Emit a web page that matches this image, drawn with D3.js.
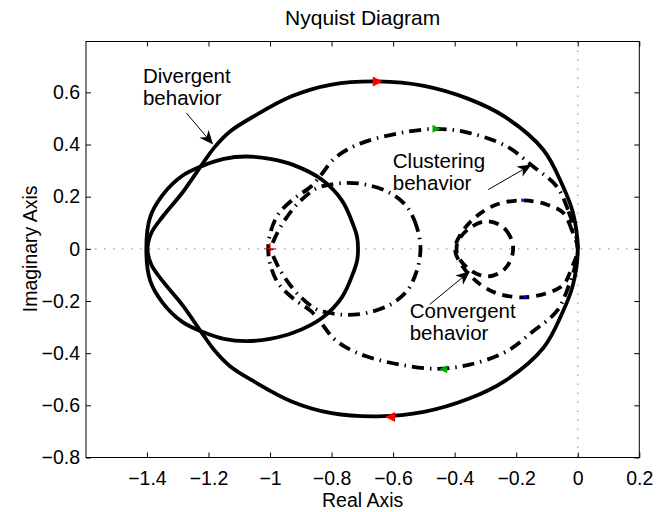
<!DOCTYPE html>
<html>
<head>
<meta charset="utf-8">
<script src="https://cdn.jsdelivr.net/npm/d3@7"></script>
<style>
  body { margin: 0; background: #fff; }
  text { font-family: "Liberation Sans", Arial, Helvetica, sans-serif; fill: #000; }
</style>
</head>
<body>
<svg id="chart" width="672" height="512"></svg>
<script>
// tick values and their labels
var xTicks = [-1.4, -1.2, -1, -0.8, -0.6, -0.4, -0.2, 0, 0.2]
var xTickLabels = ["\u22121.4", "\u22121.2", "\u22121", "\u22120.8", "\u22120.6", "\u22120.4", "\u22120.2", "0", "0.2"]
var yTicks = [-0.8, -0.6, -0.4, -0.2, 0, 0.2, 0.4, 0.6]
var yTickLabels = ["\u22120.8", "\u22120.6", "\u22120.4", "\u22120.2", "0", "0.2", "0.4", "0.6"]

// divergent response (outer solid curve)
var divOuterRe = [0, -0.016, -0.05, -0.112, -0.235, -0.355, -0.5, -0.65, -0.8, -0.93, -1.05, -1.13, -1.18, -1.22, -1.285, -1.348, -1.386, -1.398,
                  -1.386, -1.348, -1.285, -1.22, -1.18, -1.13, -1.05, -0.93, -0.8, -0.65, -0.5, -0.355, -0.235, -0.112, -0.05, -0.016]
var divOuterIm = [0, 0.14, 0.245, 0.38, 0.505, 0.575, 0.625, 0.642, 0.63, 0.585, 0.51, 0.45, 0.39, 0.325, 0.215, 0.125, 0.06, 0,
                  -0.06, -0.125, -0.215, -0.325, -0.39, -0.45, -0.51, -0.585, -0.63, -0.642, -0.625, -0.575, -0.505, -0.38, -0.245, -0.14]

// divergent response (inner solid loop)
var divInnerRe = [-0.714, -0.717, -0.728, -0.766, -0.831, -0.925, -1.0, -1.078, -1.15, -1.22, -1.285, -1.35, -1.39, -1.402,
                  -1.39, -1.35, -1.285, -1.22, -1.15, -1.078, -1.0, -0.925, -0.831, -0.766, -0.728, -0.717]
var divInnerIm = [0, 0.045, 0.087, 0.185, 0.265, 0.322, 0.345, 0.354, 0.345, 0.318, 0.28, 0.205, 0.12, 0,
                  -0.12, -0.205, -0.28, -0.318, -0.345, -0.354, -0.345, -0.322, -0.265, -0.185, -0.087, -0.045]

// clustering response (dash-dot), big loop and middle loop
var cluBigRe = [0, -0.032, -0.069, -0.145, -0.231, -0.351, -0.459, -0.578, -0.687, -0.75, -0.795, -0.83, -0.866, -0.925, -0.974, -0.999, -1.006,
                -0.999, -0.974, -0.925, -0.866, -0.83, -0.795, -0.75, -0.687, -0.578, -0.459, -0.351, -0.231, -0.145, -0.069, -0.032]
var cluBigIm = [0, 0.15, 0.24, 0.316, 0.393, 0.444, 0.46, 0.444, 0.412, 0.38, 0.342, 0.29, 0.24, 0.19, 0.131, 0.061, 0,
                -0.061, -0.131, -0.19, -0.24, -0.29, -0.342, -0.38, -0.412, -0.444, -0.46, -0.444, -0.393, -0.316, -0.24, -0.15]
var cluMidRe = [-0.511, -0.524, -0.556, -0.611, -0.687, -0.752, -0.81, -0.849, -0.903, -0.947, -0.979, -0.995,
                -0.979, -0.947, -0.903, -0.849, -0.81, -0.752, -0.687, -0.611, -0.556, -0.524]
var cluMidIm = [0, 0.087, 0.163, 0.215, 0.246, 0.253, 0.245, 0.232, 0.182, 0.119, 0.055, 0,
                -0.055, -0.119, -0.182, -0.232, -0.245, -0.253, -0.246, -0.215, -0.163, -0.087]

// convergent response (dashed), outer loop and inner loop
var conOutRe = [0, -0.02, -0.047, -0.101, -0.177, -0.264, -0.329, -0.378, -0.399, -0.378, -0.329, -0.264, -0.177, -0.101, -0.047, -0.02]
var conOutIm = [0, 0.074, 0.138, 0.17, 0.186, 0.17, 0.125, 0.061, 0, -0.061, -0.125, -0.17, -0.186, -0.17, -0.138, -0.074]
var conInRe = [-0.21, -0.22, -0.247, -0.296, -0.351, -0.389, -0.394, -0.389, -0.351, -0.296, -0.247, -0.22]
var conInIm = [0, 0.048, 0.087, 0.106, 0.08, 0.03, 0, -0.03, -0.08, -0.106, -0.087, -0.048]

// direction arrows on the curves
var arrowRe = [-0.65, -0.61, -0.459, -0.437, -0.177, -0.172]
var arrowIm = [0.642, -0.645, 0.46, -0.462, 0.186, -0.184]
var arrowDir = [1, -1, 1, -1, 1, -1]
var arrowColor = ["#ff0000", "#ff0000", "#00aa00", "#00aa00", "#0000ff", "#0000ff"]
var arrowSize = [10, 10, 8, 8, 4, 4]

// annotations: text lines, text anchor, arrow start and tip
var noteLines = [["Divergent", "behavior"], ["Clustering", "behavior"], ["Convergent", "behavior"]]
var noteRe = [-1.413, -0.601, -0.546]
var noteIm = [0.636, 0.31, -0.264]
var noteFromRe = [-1.272, -0.291, -0.481]
var noteFromIm = [0.521, 0.227, -0.213]
var noteToRe = [-1.185, -0.15, -0.35]
var noteToIm = [0.4, 0.323, -0.086]

var svg = d3.select("#chart")

var x = d3.scaleLinear().domain([-1.598, 0.2]).range([86, 639.3])
var y = d3.scaleLinear().domain([-0.8, 0.795]).range([457.5, 41.5])

var boxL = x.range()[0], boxR = x.range()[1]
var boxT = y.range()[1], boxB = y.range()[0]

svg.append("text")
  .attr("x", (boxL + boxR) / 2)
  .attr("y", 25)
  .attr("text-anchor", "middle")
  .style("font-size", "21px")
  .text("Nyquist Diagram")

svg.append("clipPath").attr("id", "clip")
  .append("rect")
  .attr("x", boxL).attr("y", boxT)
  .attr("width", boxR - boxL).attr("height", boxB - boxT)

var plot = svg.append("g").attr("clip-path", "url(#clip)")

// dotted zero lines
plot.append("line")
  .attr("x1", boxL).attr("x2", boxR)
  .attr("y1", y(0)).attr("y2", y(0))
  .attr("stroke", "#8a8a8a").attr("stroke-width", 1)
  .attr("stroke-dasharray", "1.5,7.5")
plot.append("line")
  .attr("x1", x(0)).attr("x2", x(0))
  .attr("y1", boxT).attr("y2", boxB)
  .attr("stroke", "#8a8a8a").attr("stroke-width", 1)
  .attr("stroke-dasharray", "1.5,7.5")

function pts(re, im) {
  return re.map(function(d, i) { return [d, im[i]] })
}

var loop = d3.line()
  .x(function(d) { return x(d[0]) })
  .y(function(d) { return y(d[1]) })
  .curve(d3.curveCatmullRomClosed)

var curves = [
  { p: pts(divOuterRe, divOuterIm), dash: null },
  { p: pts(divInnerRe, divInnerIm), dash: null },
  { p: pts(cluBigRe, cluBigIm), dash: "12,6,1.5,6" },
  { p: pts(cluMidRe, cluMidIm), dash: "12,6,1.5,6" },
  { p: pts(conOutRe, conOutIm), dash: "10,7" },
  { p: pts(conInRe, conInIm), dash: "10,7" }
]

plot.selectAll("path.curve")
  .data(curves)
  .enter().append("path")
  .attr("class", "curve")
  .attr("d", function(d) { return loop(d.p) })
  .attr("fill", "none")
  .attr("stroke", "#000")
  .attr("stroke-width", 3.8)
  .attr("stroke-linecap", "butt")
  .attr("stroke-dasharray", function(d) { return d.dash })

// direction markers
plot.selectAll("path.dir")
  .data(arrowRe)
  .enter().append("path")
  .attr("class", "dir")
  .attr("d", function(d, i) {
    var cx = x(d), cy = y(arrowIm[i]), s = arrowSize[i], k = arrowDir[i]
    return "M" + (cx + k * s / 2) + "," + cy +
      "L" + (cx - k * s / 2) + "," + (cy - s / 2) +
      "L" + (cx - k * s / 2) + "," + (cy + s / 2) + "Z"
  })
  .attr("fill", function(d, i) { return arrowColor[i] })

// critical point -1
plot.append("path")
  .attr("d", "M" + (x(-1) - 6) + "," + y(0) + "H" + (x(-1) + 6) +
             "M" + x(-1) + "," + (y(0) - 6) + "V" + (y(0) + 6))
  .attr("stroke", "#ff0000").attr("stroke-width", 1)

// axes with inward ticks
var xAxis = d3.axisBottom(x).tickValues(xTicks)
  .tickFormat(function(d, i) { return xTickLabels[i] })
  .tickSizeInner(-5).tickSizeOuter(0).tickPadding(14)
var yAxis = d3.axisLeft(y).tickValues(yTicks)
  .tickFormat(function(d, i) { return yTickLabels[i] })
  .tickSizeInner(-5).tickSizeOuter(0).tickPadding(6)

svg.append("g").attr("transform", "translate(0," + boxB + ")").call(xAxis)
svg.append("g").attr("transform", "translate(" + boxL + ",0)").call(yAxis)
svg.append("g").attr("transform", "translate(0," + boxT + ")")
  .call(d3.axisTop(x).tickValues(xTicks).tickFormat("").tickSizeInner(-5).tickSizeOuter(0))
svg.append("g").attr("transform", "translate(" + boxR + ",0)")
  .call(d3.axisRight(y).tickValues(yTicks).tickFormat("").tickSizeInner(-5).tickSizeOuter(0))

svg.selectAll(".domain").remove()
svg.selectAll(".tick line").attr("stroke", "#000")
svg.selectAll(".tick text")
  .style("font-size", "19.5px")
  .style("font-family", "'Liberation Sans', Arial, sans-serif")

svg.append("rect")
  .attr("x", boxL).attr("y", boxT)
  .attr("width", boxR - boxL).attr("height", boxB - boxT)
  .attr("fill", "none").attr("stroke", "#000").attr("stroke-width", 1)

svg.append("text")
  .attr("x", (boxL + boxR) / 2)
  .attr("y", 507)
  .attr("text-anchor", "middle")
  .style("font-size", "19.5px")
  .text("Real Axis")

svg.append("text")
  .attr("transform", "translate(37," + y(0) + ") rotate(-90)")
  .attr("text-anchor", "middle")
  .style("font-size", "19.5px")
  .text("Imaginary Axis")

// annotations
noteLines.forEach(function(lines, i) {
  var t = svg.append("text")
    .attr("x", x(noteRe[i]))
    .attr("y", y(noteIm[i]))
    .style("font-size", "20.5px")
  lines.forEach(function(s, j) {
    t.append("tspan")
      .attr("x", x(noteRe[i]))
      .attr("dy", j === 0 ? 0 : 22.5)
      .text(s)
  })

  var x1 = x(noteFromRe[i]), y1 = y(noteFromIm[i])
  var x2 = x(noteToRe[i]), y2 = y(noteToIm[i])
  var len = Math.hypot(x2 - x1, y2 - y1)
  var ux = (x2 - x1) / len, uy = (y2 - y1) / len
  var nx = -uy, ny = ux
  var L = 14, W = 6, notch = 4
  svg.append("line")
    .attr("x1", x1).attr("y1", y1)
    .attr("x2", x2 - (L - notch) * ux).attr("y2", y2 - (L - notch) * uy)
    .attr("stroke", "#000").attr("stroke-width", 1)
  svg.append("path")
    .attr("d", "M" + x2 + "," + y2 +
      "L" + (x2 - L * ux + W * nx) + "," + (y2 - L * uy + W * ny) +
      "L" + (x2 - (L - notch) * ux) + "," + (y2 - (L - notch) * uy) +
      "L" + (x2 - L * ux - W * nx) + "," + (y2 - L * uy - W * ny) + "Z")
    .attr("fill", "#000")
})
</script>
</body>
</html>
